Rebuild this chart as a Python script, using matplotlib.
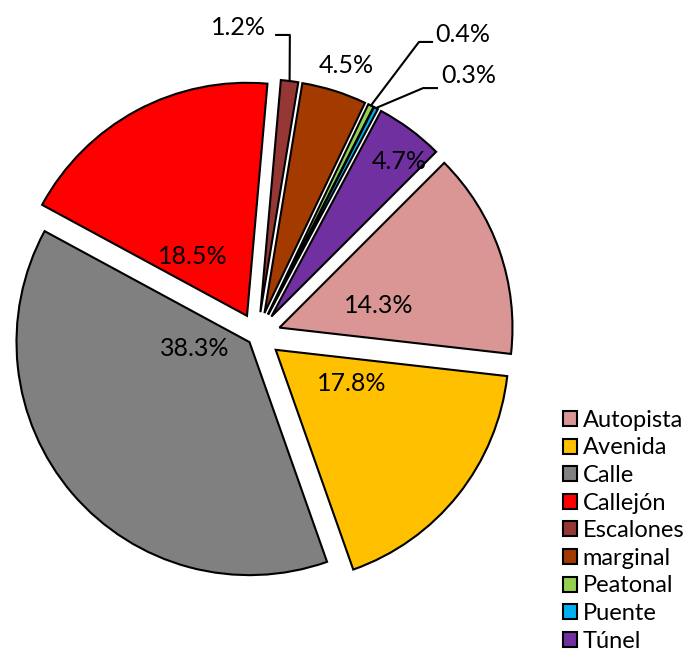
import matplotlib.pyplot as plt
import numpy as np

plt.rcParams['font.family'] = ['Lato', 'DejaVu Sans']

categories = ['Autopista', 'Avenida', 'Calle', 'Callejón', 'Escalones',
              'marginal', 'Peatonal', 'Puente', 'Túnel']
values = [14.3, 17.8, 38.3, 18.5, 1.2, 4.5, 0.4, 0.3, 4.7]
colors = ['#D99694', '#FFC000', '#808080', '#FF0000', '#953735',
          '#A33A00', '#92D050', '#00B0F0', '#7030A0']
explode = [0.1, 0.1, 0.045, 0.095, 0.1, 0.1, 0.1, 0.1, 0.1]

# label centres (pie radius = 1)
label_xy = [(0.522, 0.126), (0.406, -0.205), (-0.268, -0.055), (-0.276, 0.340),
            (-0.083, 1.323), (0.380, 1.156), (0.882, 1.293), (0.908, 1.113),
            (0.608, 0.748)]
# elbow and end of leader lines for the thin slices
leaders = {4: [(0.139, 1.289), (0.080, 1.289)],
           6: [(0.693, 1.259), (0.749, 1.259)],
           7: [(0.711, 1.061), (0.770, 1.061)]}

fig = plt.figure(figsize=(6.96, 6.55), dpi=100)
ax = fig.add_axes([0, 0, 1, 1])

wedges, _ = ax.pie(values, explode=explode, colors=colors, startangle=45,
                   counterclock=False, radius=1,
                   wedgeprops=dict(edgecolor='black', linewidth=1.5))

for i, w in enumerate(wedges):
    ax.text(label_xy[i][0], label_xy[i][1], f'{values[i]:.1f}%',
            ha='center', va='center', fontsize=18, color='black')
    if i in leaders:
        mid = np.deg2rad((w.theta1 + w.theta2) / 2)
        cx, cy = w.center
        pts = [(cx + np.cos(mid), cy + np.sin(mid))] + leaders[i]
        xs, ys = zip(*pts)
        ax.plot(xs, ys, color='black', linewidth=1.5)

ax.set_xlim(-1.105, 1.882)
ax.set_ylim(-1.372, 1.439)
ax.set_aspect('auto')
ax.axis('off')

leg = ax.legend(wedges, categories, loc='upper left',
                bbox_to_anchor=(551 / 696, 1 - 398 / 655), frameon=False,
                fontsize=17, handlelength=0.6, handleheight=0.6,
                handletextpad=0.25, labelspacing=0.28, borderpad=0)

fig.savefig('out.png', dpi=100)
